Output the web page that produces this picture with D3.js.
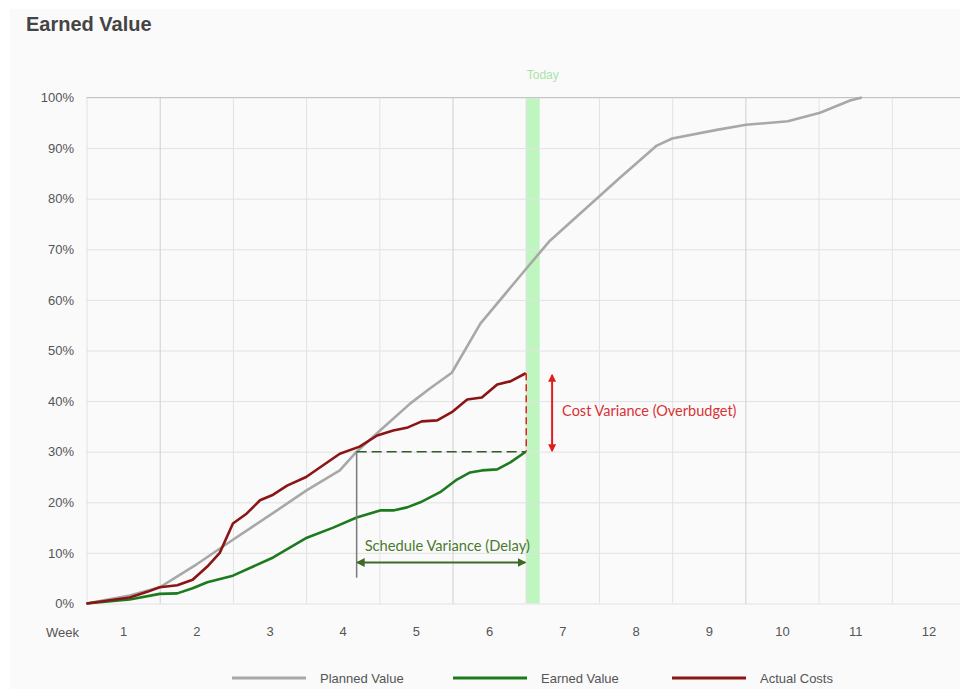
<!DOCTYPE html>
<html>
<head>
<meta charset="utf-8">
<script src="https://cdn.jsdelivr.net/npm/d3@7"></script>
<style>
  body { margin: 0; background: #fff; }
  svg { display: block; font-family: "Liberation Sans", Arial, sans-serif; }
  .grid line { stroke: #e2e2e4; }
  .grid .domain { display: none; }
  .lbl text { fill: #555; font-size: 13px; }
  .lbl .domain, .lbl line { display: none; }
</style>
</head>
<body>
<script>
// ---- data (weeks, percent) ----
var pvWeek = [0.5, 1.09, 1.5, 2.01, 2.5, 3.01, 3.5, 3.96, 4.19, 4.51, 4.92, 5.19, 5.49, 5.88, 6.52, 6.83, 7.79, 8.29, 8.5, 9.11, 9.51, 10.08, 10.52, 10.93, 11.09];
var pvVal  = [0, 1.6, 3.2, 7.8, 12.6, 17.5, 22.3, 26.3, 30.0, 34.2, 39.5, 42.5, 45.6, 55.3, 66.4, 71.7, 84.2, 90.5, 91.9, 93.6, 94.6, 95.3, 97.0, 99.4, 100];

var evWeek = [0.5, 1.09, 1.5, 1.74, 1.95, 2.15, 2.5, 3.05, 3.51, 3.87, 4.19, 4.51, 4.69, 4.88, 5.06, 5.33, 5.56, 5.74, 5.9, 6.11, 6.29, 6.5];
var evVal  = [0, 0.8, 1.9, 2.0, 3.0, 4.2, 5.5, 9.1, 13.0, 15.0, 17.0, 18.4, 18.4, 19.0, 20.0, 22.0, 24.5, 25.9, 26.3, 26.5, 27.9, 30.0];

var acWeek = [0.5, 1.09, 1.33, 1.5, 1.74, 1.95, 2.15, 2.32, 2.5, 2.69, 2.87, 3.05, 3.24, 3.5, 3.96, 4.23, 4.47, 4.69, 4.89, 5.08, 5.29, 5.49, 5.7, 5.9, 6.11, 6.29, 6.5];
var acVal  = [0, 1.2, 2.3, 3.2, 3.6, 4.7, 7.3, 10.0, 15.8, 17.8, 20.4, 21.5, 23.3, 25.0, 29.6, 31.0, 33.2, 34.2, 34.8, 36.0, 36.2, 37.8, 40.3, 40.7, 43.3, 43.9, 45.5];

var weekLabels = [1, 2, 3, 4, 5, 6, 7, 8, 9, 10, 11, 12];
var yTicks = [0, 10, 20, 30, 40, 50, 60, 70, 80, 90, 100];
var seriesNames = ["Planned Value", "Earned Value", "Actual Costs"];
var seriesColors = ["#a8a8a8", "#1d7a1d", "#8b1515"];

var today = 6.5, todayEnd = 6.69;
var svStart = 4.19;   // week where planned value equals today's earned value
var cvX = 6.86;       // position of the cost variance arrow

// ---- setup ----
var W = 960, H = 689;
var x = d3.scaleLinear().domain([0.5, 12.5]).range([86.5, 965]);
var y = d3.scaleLinear().domain([0, 100]).range([603.5, 97.5]);

var svg = d3.select("body").append("svg")
	.attr("width", W)
	.attr("height", H);

svg.append("rect")
	.attr("x", 10).attr("y", 9)
	.attr("width", W).attr("height", H)
	.attr("fill", "#fafafb");

svg.append("text")
	.attr("x", 26).attr("y", 31)
	.attr("font-size", "20px")
	.attr("font-weight", "bold")
	.attr("fill", "#444")
	.text("Earned Value");

var defs = svg.append("defs");
function arrowHead(id, color) {
	defs.append("marker")
		.attr("id", id)
		.attr("viewBox", "0 0 10 10")
		.attr("refX", 8).attr("refY", 5)
		.attr("markerWidth", 4).attr("markerHeight", 4)
		.attr("orient", "auto-start-reverse")
		.append("path")
		.attr("d", "M0,0 L10,5 L0,10 z")
		.attr("fill", color);
}
arrowHead("headGreen", "#3b6b24");
arrowHead("headRed", "#e01e1e");

// today band
svg.append("rect")
	.attr("x", x(today))
	.attr("y", y(100))
	.attr("width", x(todayEnd) - x(today))
	.attr("height", y(0) - y(100))
	.attr("fill", "#bff5bf");

svg.append("text")
	.attr("x", x(today) + 17).attr("y", 79)
	.attr("text-anchor", "middle")
	.attr("font-size", "12px")
	.attr("fill", "#a9e4a9")
	.text("Today");

// horizontal grid + y labels
svg.append("g")
	.attr("class", "grid")
	.attr("transform", "translate(" + x(0.5) + ",0)")
	.call(d3.axisLeft(y).tickValues(yTicks).tickSize(-(x(12.5) - x(0.5))).tickFormat(""));

svg.append("g")
	.attr("class", "lbl")
	.attr("transform", "translate(74,0)")
	.call(d3.axisLeft(y).tickValues(yTicks).tickSize(0).tickPadding(0).tickFormat(function(d) { return d + "%"; }));

// vertical grid at week boundaries
var bounds = d3.range(0.5, 12.6, 1);
var vg = svg.append("g")
	.attr("class", "grid")
	.attr("transform", "translate(0," + y(0) + ")")
	.call(d3.axisBottom(x).tickValues(bounds).tickSize(-(y(0) - y(100))).tickFormat(""));
vg.selectAll(".tick line")
	.style("stroke", function(d) { return (d === 1.5 || d === 5.5 || d === 9.5) ? "#cfcfd1" : null; });

svg.append("line")
	.attr("x1", x(0.5)).attr("x2", x(12.5))
	.attr("y1", y(100)).attr("y2", y(100))
	.attr("stroke", "#c4c4c6");

// week labels
svg.append("g")
	.attr("class", "lbl")
	.attr("transform", "translate(0,627)")
	.call(d3.axisBottom(x).tickValues(weekLabels).tickSize(0).tickPadding(0).tickFormat(d3.format("d")));

svg.append("text")
	.attr("x", 46).attr("y", 637)
	.attr("font-size", "13px")
	.attr("fill", "#555")
	.text("Week");

// lines
var line = d3.line()
	.x(function(d) { return x(d[0]); })
	.y(function(d) { return y(d[1]); });

var series = [
	d3.zip(pvWeek, pvVal),
	d3.zip(evWeek, evVal),
	d3.zip(acWeek, acVal)
];

svg.selectAll(".series")
	.data(series)
	.enter().append("path")
	.attr("class", "series")
	.attr("d", line)
	.attr("fill", "none")
	.attr("stroke", function(d, i) { return seriesColors[i]; })
	.attr("stroke-width", 2.6)
	.attr("stroke-linejoin", "round");

// ---- annotations ----
var evToday = evVal[evVal.length - 1];
var acToday = acVal[acVal.length - 1];

// schedule variance
svg.append("line")
	.attr("x1", x(svStart)).attr("x2", x(svStart))
	.attr("y1", y(evToday)).attr("y2", y(5.1))
	.attr("stroke", "#7a7a7a").attr("stroke-width", 1.5);

svg.append("line")
	.attr("x1", x(svStart)).attr("x2", x(today))
	.attr("y1", y(evToday)).attr("y2", y(evToday))
	.attr("stroke", "#2f5f22").attr("stroke-width", 1.5)
	.attr("stroke-dasharray", "10,5");

svg.append("line")
	.attr("x1", x(svStart) + 1).attr("x2", x(today) - 1)
	.attr("y1", y(8.1)).attr("y2", y(8.1))
	.attr("stroke", "#3b6b24").attr("stroke-width", 2.2)
	.attr("marker-start", "url(#headGreen)")
	.attr("marker-end", "url(#headGreen)");

svg.append("text")
	.attr("x", x(svStart) + 8).attr("y", 551)
	.attr("font-family", "Lato, 'Open Sans', sans-serif")
	.attr("font-size", "14.7px")
	.attr("fill", "#4a7a30")
	.text("Schedule Variance (Delay)");

// cost variance
svg.append("line")
	.attr("x1", x(today) + 0.5).attr("x2", x(today) + 0.5)
	.attr("y1", y(acToday)).attr("y2", y(evToday))
	.attr("stroke", "#e02020").attr("stroke-width", 1.5)
	.attr("stroke-dasharray", "7,4");

svg.append("line")
	.attr("x1", x(cvX)).attr("x2", x(cvX))
	.attr("y1", y(acToday) + 2).attr("y2", y(evToday) - 1)
	.attr("stroke", "#e01e1e").attr("stroke-width", 2)
	.attr("marker-start", "url(#headRed)")
	.attr("marker-end", "url(#headRed)");

svg.append("text")
	.attr("x", x(cvX) + 10).attr("y", 416)
	.attr("font-family", "Lato, 'Open Sans', sans-serif")
	.attr("font-size", "14.5px")
	.attr("fill", "#d83232")
	.text("Cost Variance (Overbudget)");

// ---- legend ----
var legendX = [232, 453, 672];
var legend = svg.selectAll(".legend")
	.data(seriesNames).enter()
	.append("g")
	.attr("class", "legend")
	.attr("transform", function(d, i) { return "translate(" + legendX[i] + ",678)"; });

legend.append("line")
	.attr("x1", 0).attr("x2", 74)
	.attr("stroke", function(d, i) { return seriesColors[i]; })
	.attr("stroke-width", 3);

legend.append("text")
	.attr("x", 88).attr("y", 4.5)
	.attr("font-size", "13px")
	.attr("fill", "#555")
	.text(function(d) { return d; });
</script>
</body>
</html>
